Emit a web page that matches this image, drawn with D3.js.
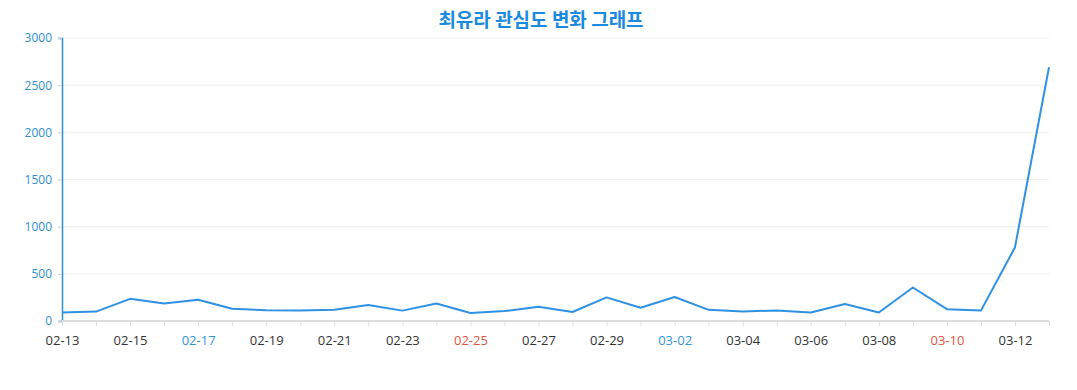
<!DOCTYPE html>
<html><head><meta charset="utf-8">
<script src="https://cdn.jsdelivr.net/npm/d3@7"></script>
<style>body{margin:0;background:#fff;}svg{display:block;font-family:"Open Sans","Noto Sans CJK KR",sans-serif;}</style>
</head><body><svg id="c" width="1077" height="390"></svg>
<script>
const titleText = "최유라 관심도 변화 그래프";
const dates = ["02-13","02-14","02-15","02-16","02-17","02-18","02-19","02-20","02-21","02-22","02-23","02-24","02-25","02-26","02-27","02-28","02-29","03-01","03-02","03-03","03-04","03-05","03-06","03-07","03-08","03-09","03-10","03-11","03-12","03-13"];
const values = [90,100,235,185,225,130,115,112,120,170,110,185,85,105,150,95,250,140,255,118,100,112,90,180,90,355,125,110,780,2690];
const yTicks = [0,500,1000,1500,2000,2500,3000];
const saturdays = ["02-17","03-02"];
const sundays = ["02-25","03-10"];

const svg = d3.select("#c");
const L = 62, R = 1049, T = 38, B = 321;
const x = d3.scalePoint().domain(dates).range([L, R]);
const y = d3.scaleLinear().domain([0, 3000]).range([B, T]);

svg.append("text").attr("x", 541).attr("y", 27).attr("text-anchor", "middle")
  .attr("font-family", "'Noto Sans CJK KR',sans-serif").attr("font-weight", "bold")
  .attr("font-size", 19).attr("fill", "#1a8ae0").text(titleText);

// grid
svg.append("g").selectAll("line").data(yTicks.slice(1)).join("line")
  .attr("x1", L).attr("x2", R).attr("y1", d => y(d)).attr("y2", d => y(d))
  .attr("stroke", "#eeeeee").attr("stroke-width", 1);

// y axis
const ya = svg.append("g").attr("transform", `translate(${L},0)`)
  .call(d3.axisLeft(y).tickValues(yTicks).tickFormat(d3.format("d")).tickSize(4).tickPadding(6));
ya.select(".domain").attr("stroke", "#2a8fd8").attr("stroke-width", 1.5);
ya.selectAll(".tick line").attr("stroke", "#cccccc");
ya.selectAll(".tick text").attr("fill", "#2a8fd0").attr("font-size", 12)
  .attr("font-family", "'Open Sans',sans-serif");

// x axis
const xa = svg.append("g").attr("transform", `translate(0,${B})`)
  .call(d3.axisBottom(x).tickSize(5).tickPadding(10)
    .tickFormat((d, i) => i % 2 === 0 ? d : ""));
xa.select(".domain").attr("stroke", "#dddddd").attr("stroke-width", 2)
  .attr("d", `M${L},0H${R}`);
xa.selectAll(".tick line").attr("stroke", "#dddddd");
xa.selectAll(".tick text").attr("font-size", 13).attr("font-family", "'Open Sans',sans-serif")
  .attr("fill", d => saturdays.includes(d) ? "#2f96d6" : sundays.includes(d) ? "#e0553d" : "#333333");

// line
svg.append("path").datum(values)
  .attr("fill", "none").attr("stroke", "#2f91e3").attr("stroke-width", 2)
  .attr("stroke-linejoin", "round")
  .attr("d", d3.line().x((d, i) => x(dates[i])).y(d => y(d)));
</script></body></html>
